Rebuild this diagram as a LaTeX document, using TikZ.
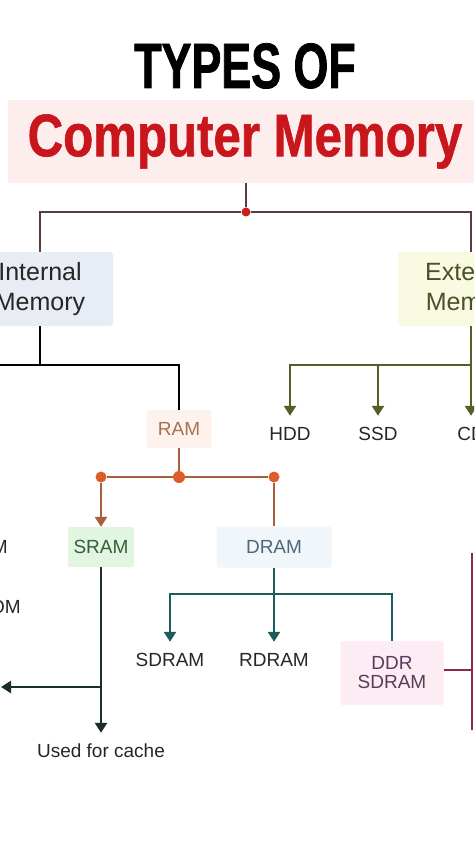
\documentclass[tikz,border=0pt]{standalone}
\usepackage{fontspec}
\setmainfont{Liberation Sans}
\newfontfamily\typesfont[FakeStretch=0.70,FakeBold=1.2]{Liberation Sans}
\newfontfamily\memfont[FakeStretch=0.82,FakeBold=1]{Liberation Sans}
\usetikzlibrary{arrows.meta}

\definecolor{titlered}{RGB}{200,22,28}
\definecolor{titlebg}{RGB}{253,237,237}
\definecolor{rootline}{RGB}{88,62,62}
\definecolor{rootdot}{RGB}{200,32,32}
\definecolor{ink}{RGB}{38,38,38}
\definecolor{intbg}{RGB}{232,236,245}
\definecolor{extbg}{RGB}{250,250,226}
\definecolor{exttext}{RGB}{72,82,42}
\definecolor{olive}{RGB}{82,98,38}
\definecolor{ramtext}{RGB}{165,115,80}
\definecolor{rambg}{RGB}{253,243,236}
\definecolor{ramline}{RGB}{170,95,60}
\definecolor{ramdot}{RGB}{222,92,40}
\definecolor{sramtext}{RGB}{55,95,55}
\definecolor{srambg}{RGB}{226,245,224}
\definecolor{sramline}{RGB}{25,48,35}
\definecolor{dramtext}{RGB}{75,105,120}
\definecolor{drambg}{RGB}{240,246,250}
\definecolor{teal}{RGB}{28,92,92}
\definecolor{ddrtext}{RGB}{90,60,90}
\definecolor{ddrbg}{RGB}{252,236,243}
\definecolor{ddrline}{RGB}{140,40,75}

\begin{document}
\begin{tikzpicture}[x=1pt, y=-1pt,
    lbl/.style={font=\fontsize{19}{23}\selectfont, text=ink, inner sep=2pt, minimum height=36pt},
    membox/.style={fill=#1, rounded corners=3pt, minimum width=146pt, minimum height=74pt, align=center, font=\fontsize{25}{30}\selectfont},
    typebox/.style={lbl, fill=#1, rounded corners=2pt},
    link/.style={line width=2.8pt},
    tip/.style={-{Triangle[width=12pt,length=10pt]}},
    dot/.style={circle, fill=#1, inner sep=0pt, minimum size=11pt}]
      \useasboundingbox (0,0) rectangle (474,842);
      \clip (0,0) rectangle (474,842);

      % Title
      \node[font=\typesfont\bfseries\fontsize{64}{64}\selectfont, anchor=base] (types) at (245,88) {TYPES OF};
      \node[fill=titlebg, minimum width=474pt, minimum height=83pt, text=titlered, font=\memfont\bfseries\fontsize{60}{60}\selectfont] (memory) at (245,141.5) {Computer Memory};

      % Memory groups
      \node[membox=intbg, text=ink] (internal) at (40,289) {Internal\\Memory};
      \node[membox=extbg, text=exttext] (external) at (471,289) {External\\Memory};
      \node[dot=rootdot, minimum size=9pt] (root) at (246,212) {};

      % Root connections
      \draw[link, rootline] (memory.south -| root) -- (root);
      \draw[link, rootline] (internal.north) |- (root) -| (external.north);

      % Internal memory
      \node[typebox=rambg, text=ramtext, minimum width=65pt, minimum height=38pt] (ram) at (179,429) {RAM};
      \node[lbl, anchor=east] (prom) at (10,547) {PROM};
      \node[lbl, anchor=east] (eprom) at (23,607) {EPROM};
      \coordinate (intjoin) at (40,365);
      \coordinate (romstub) at (-5,365);
      \draw[link] (internal.south) -- (intjoin);
      \draw[link] (romstub) -| (ram.north);

      % RAM types
      \node[dot=ramdot, minimum size=12pt] (ramsplit) at (179,477) {};
      \node[dot=ramdot] (sramdot) at (101,477) {};
      \node[dot=ramdot] (dramdot) at (274,477) {};
      \node[typebox=srambg, text=sramtext, minimum width=66pt, minimum height=40pt] (sram) at (101,547) {SRAM};
      \node[typebox=drambg, text=dramtext, minimum width=115pt, minimum height=41pt] (dram) at (274,547) {DRAM};
      \draw[link, ramline] (ram.south) -- (ramsplit);
      \draw[link, ramline] (sramdot) -- (ramsplit) -- (dramdot);
      \draw[link, ramline, tip] (sramdot) -- (sram.north);
      \draw[link, ramline] (dramdot) -- (dram.north);

      % SRAM
      \node[lbl] (cache) at (101,751) {Used for cache};
      \coordinate (sramjoin) at (101,687);
      \coordinate (leftend) at (1,687);
      \draw[link, sramline, tip] (sram.south) -- (cache.north);
      \draw[link, sramline, tip] (sramjoin) -- (leftend);

      % DRAM types
      \node[lbl] (sdram) at (170,660) {SDRAM};
      \node[lbl] (rdram) at (274,660) {RDRAM};
      \node[typebox=ddrbg, text=ddrtext, minimum width=103pt, minimum height=64pt, align=center] (ddr) at (392,673) {DDR\\[-4pt]SDRAM};
      \coordinate (dramjoin) at (274,594);
      \draw[link, teal, tip] (dram.south) -- (rdram.north);
      \draw[link, teal, tip] (dramjoin) -| (sdram.north);
      \draw[link, teal] (dramjoin) -| (ddr.north);

      % DDR link
      \coordinate (ddrjoin) at (472,670);
      \coordinate (ddrtop) at (472,553);
      \coordinate (ddrbot) at (472,730);
      \draw[link, ddrline] (ddr.east |- ddrjoin) -- (ddrjoin);
      \draw[link, ddrline] (ddrtop) -- (ddrbot);

      % External memory
      \node[lbl] (hdd) at (290,434) {HDD};
      \node[lbl] (ssd) at (378,434) {SSD};
      \node[lbl] (cd) at (471,434) {CD};
      \coordinate (extjoin) at (471,365);
      \draw[link, olive] (external.south) -- (extjoin);
      \draw[link, olive, tip] (extjoin) -| (hdd.north);
      \draw[link, olive, tip] (ssd.north |- extjoin) -- (ssd.north);
      \draw[link, olive, tip] (extjoin) -- (cd.north);

    \end{tikzpicture}
\end{document}
